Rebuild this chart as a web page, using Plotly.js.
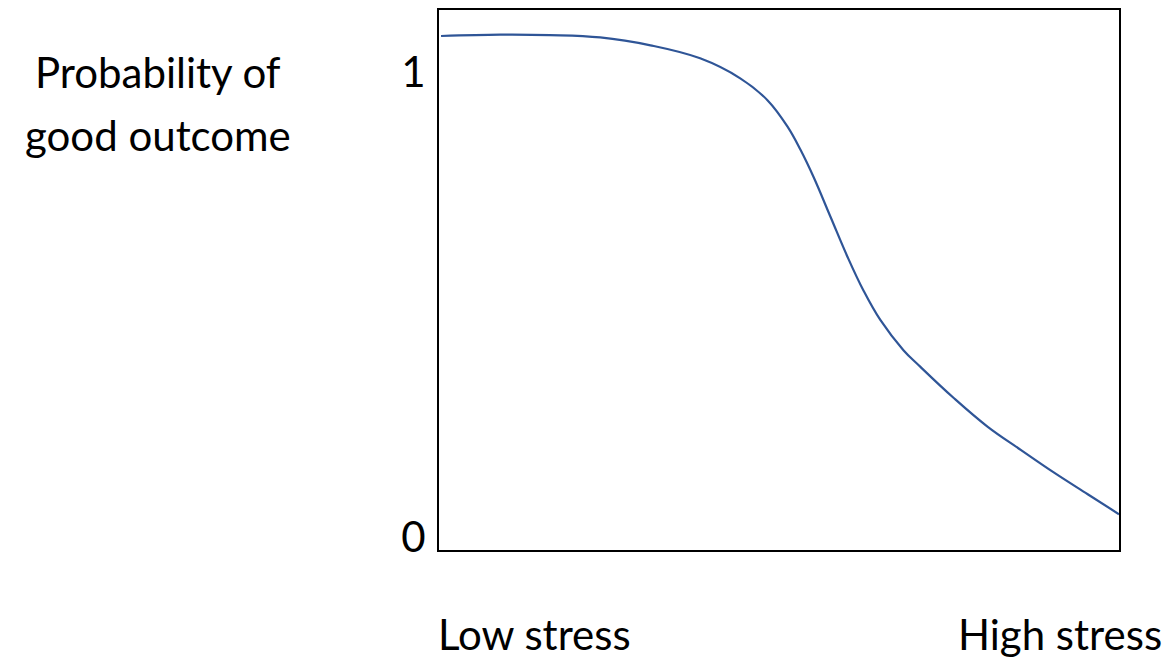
<!DOCTYPE html>
<html>
<head>
<meta charset="utf-8">
<script src="https://cdn.plot.ly/plotly-3.0.1.min.js"></script>
<style>
  html, body { margin: 0; padding: 0; background: #ffffff; }
  #chart { width: 1170px; height: 662px; }
</style>
</head>
<body>
<div id="chart"></div>
<script>
// Stress level (0 = low, 100 = high)
const stress = [0.3, 9.0, 16.3, 23.7, 31.1, 38.4, 44.3, 48.3, 51.3, 53.2, 55.1, 57.6, 60.1, 62.4, 64.9, 68.3, 70.8, 75.7, 80.7, 85.6, 90.4, 95.4, 100];
// Probability of good outcome
const probability = [1.078, 1.081, 1.080, 1.075, 1.058, 1.030, 0.987, 0.940, 0.882, 0.832, 0.774, 0.688, 0.602, 0.531, 0.467, 0.402, 0.366, 0.299, 0.237, 0.187, 0.139, 0.092, 0.049];

const yTickVals = [0, 1];
const yTickText = ['0', '1'];
const yTitleLines = ['Probability of', 'good outcome'];
const xEndLabels = ['Low stress', 'High stress'];

const FONT = 'Lato, "Open Sans", sans-serif';

const trace = {
  x: stress,
  y: probability,
  type: 'scatter',
  mode: 'lines',
  line: { color: '#2F5597', width: 2.2, shape: 'spline', smoothing: 1.1 },
  hoverinfo: 'skip'
};

const layout = {
  width: 1170,
  height: 662,
  margin: { l: 439, r: 51, t: 10, b: 112 },
  paper_bgcolor: '#ffffff',
  plot_bgcolor: '#ffffff',
  showlegend: false,
  font: { family: FONT, color: '#000000', size: 42 },
  xaxis: {
    range: [0, 100],
    showgrid: false,
    zeroline: false,
    showticklabels: false,
    ticks: '',
    showline: true,
    linecolor: '#000000',
    linewidth: 2,
    mirror: true,
    fixedrange: true
  },
  yaxis: {
    range: [-0.028, 1.134],
    showgrid: false,
    zeroline: false,
    tickmode: 'array',
    tickvals: yTickVals,
    ticktext: yTickText,
    tickfont: { family: FONT, size: 42, color: '#000000' },
    ticks: '',
    ticklabelstandoff: 3,
    showline: true,
    linecolor: '#000000',
    linewidth: 2,
    mirror: true,
    fixedrange: true
  },
  annotations: [
    { text: yTitleLines[0], xref: 'paper', yref: 'paper', x: -0.413, y: 0.885, xanchor: 'center', yanchor: 'middle', showarrow: false, font: { family: FONT, size: 42, color: '#000000' } },
    { text: yTitleLines[1], xref: 'paper', yref: 'paper', x: -0.413, y: 0.769, xanchor: 'center', yanchor: 'middle', showarrow: false, font: { family: FONT, size: 42, color: '#000000' } },
    { text: xEndLabels[0], xref: 'paper', yref: 'paper', x: 0.140, y: -0.1556, xanchor: 'center', yanchor: 'middle', showarrow: false, font: { family: FONT, size: 42, color: '#000000' } },
    { text: xEndLabels[1], xref: 'paper', yref: 'paper', x: 0.913, y: -0.1556, xanchor: 'center', yanchor: 'middle', showarrow: false, font: { family: FONT, size: 42, color: '#000000' } }
  ]
};

Plotly.newPlot('chart', [trace], layout, { displayModeBar: false, staticPlot: true });
</script>
</body>
</html>
